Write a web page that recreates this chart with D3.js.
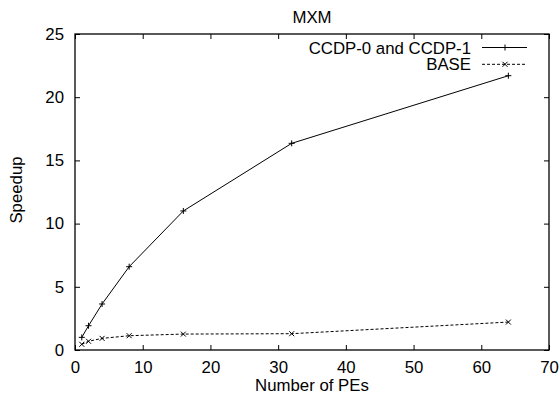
<!DOCTYPE html>
<html>
<head>
<meta charset="utf-8">
<script src="https://cdn.jsdelivr.net/npm/d3@7"></script>
<style>
  html, body { margin: 0; padding: 0; background: #fff; }
  svg { display: block; font-family: "Liberation Sans", Arial, sans-serif; }
</style>
</head>
<body>
<div id="chart"></div>
<script>
// data
const pes = [1, 2, 4, 8, 16, 32, 64];
const ccdpSpeedup = [1.0, 1.92, 3.64, 6.59, 11.0, 16.35, 21.7];
const baseSpeedup = [0.45, 0.69, 0.92, 1.13, 1.26, 1.29, 2.21];
const xTicks = [0, 10, 20, 30, 40, 50, 60, 70];
const yTicks = [0, 5, 10, 15, 20, 25];
const seriesNames = ["CCDP-0 and CCDP-1", "BASE"];

const width = 560, height = 398;
const margin = { top: 34, right: 11, bottom: 48, left: 75 };
const innerWidth = width - margin.left - margin.right;
const innerHeight = height - margin.top - margin.bottom;

const svg = d3.select("#chart").append("svg")
  .attr("width", width)
  .attr("height", height);

const g = svg.append("g")
  .attr("transform", `translate(${margin.left},${margin.top})`);

const x = d3.scaleLinear().domain([0, 70]).range([0, innerWidth]);
const y = d3.scaleLinear().domain([0, 25]).range([innerHeight, 0]);

const fontSize = 16.8;

// axes (ticks inward, mirrored on top and right)
const axisBottomG = g.append("g")
  .attr("transform", `translate(0,${innerHeight})`)
  .call(d3.axisBottom(x).tickValues(xTicks).tickSize(-5).tickPadding(11).tickFormat(d3.format("d")));
const axisTopG = g.append("g")
  .call(d3.axisTop(x).tickValues(xTicks).tickSize(-5));
const axisLeftG = g.append("g")
  .call(d3.axisLeft(y).tickValues(yTicks).tickSize(-5).tickPadding(11).tickFormat(d3.format("d")));
const axisRightG = g.append("g")
  .attr("transform", `translate(${innerWidth},0)`)
  .call(d3.axisRight(y).tickValues(yTicks).tickSize(-5));

[axisTopG, axisRightG].forEach(a => a.selectAll("text").remove());

[axisBottomG, axisTopG, axisLeftG, axisRightG].forEach(a => {
  a.select(".domain").remove();
  a.selectAll("line").attr("stroke", "#000");
  a.selectAll("text")
    .attr("fill", "#000")
    .attr("font-size", fontSize)
    .attr("font-family", "Liberation Sans, Arial, sans-serif");
});

// frame
g.append("rect")
  .attr("width", innerWidth)
  .attr("height", innerHeight)
  .attr("fill", "none")
  .attr("stroke", "#000")
  .attr("stroke-width", 1.3);

// series
const ccdp = pes.map((p, i) => ({ x: p, y: ccdpSpeedup[i] }));
const base = pes.map((p, i) => ({ x: p, y: baseSpeedup[i] }));

const line = d3.line().x(d => x(d.x)).y(d => y(d.y));

g.append("path")
  .datum(ccdp)
  .attr("fill", "none")
  .attr("stroke", "#000")
  .attr("stroke-width", 1)
  .attr("d", line);

g.append("path")
  .datum(base)
  .attr("fill", "none")
  .attr("stroke", "#000")
  .attr("stroke-width", 1)
  .attr("stroke-dasharray", "3 2")
  .attr("d", line);

// markers: plus and cross
const plusPath = "M-3,0H3M0,-3V3";
const crossPath = "M-2.5,-2.5L2.5,2.5M-2.5,2.5L2.5,-2.5";

g.selectAll(".plus")
  .data(ccdp)
  .enter()
  .append("path")
  .attr("class", "plus")
  .attr("transform", d => `translate(${x(d.x)},${y(d.y)})`)
  .attr("d", plusPath)
  .attr("stroke", "#000")
  .attr("stroke-width", 1);

g.selectAll(".cross")
  .data(base)
  .enter()
  .append("path")
  .attr("class", "cross")
  .attr("transform", d => `translate(${x(d.x)},${y(d.y)})`)
  .attr("d", crossPath)
  .attr("stroke", "#000")
  .attr("stroke-width", 1);

// legend
const legend = g.append("g");
seriesNames.forEach((name, i) => {
  const ly = 13.5 + i * 16.8;
  legend.append("text")
    .attr("x", 396)
    .attr("y", ly + 6)
    .attr("text-anchor", "end")
    .attr("font-size", fontSize)
    .attr("fill", "#000")
    .text(name);
  legend.append("line")
    .attr("x1", 407).attr("x2", 452)
    .attr("y1", ly).attr("y2", ly)
    .attr("stroke", "#000")
    .attr("stroke-dasharray", i === 0 ? null : "3 2");
  legend.append("path")
    .attr("transform", `translate(430,${ly})`)
    .attr("d", i === 0 ? plusPath : crossPath)
    .attr("stroke", "#000");
});

// title and axis labels
svg.append("text")
  .attr("x", margin.left + innerWidth / 2)
  .attr("y", 23)
  .attr("text-anchor", "middle")
  .attr("font-size", fontSize)
  .attr("fill", "#000")
  .text("MXM");

svg.append("text")
  .attr("x", margin.left + innerWidth / 2)
  .attr("y", 391)
  .attr("text-anchor", "middle")
  .attr("font-size", fontSize)
  .attr("fill", "#000")
  .text("Number of PEs");

svg.append("text")
  .attr("transform", `translate(22,${margin.top + innerHeight / 2 - 2}) rotate(-90)`)
  .attr("text-anchor", "middle")
  .attr("font-size", fontSize)
  .attr("fill", "#000")
  .text("Speedup");
</script>
</body>
</html>
